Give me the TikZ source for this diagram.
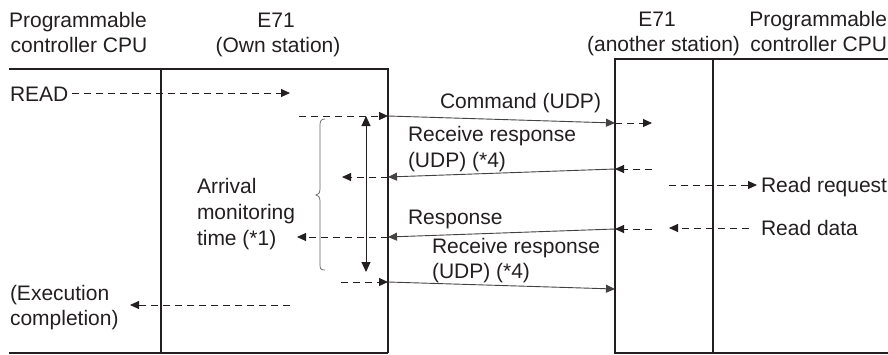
\documentclass[tikz,border=0pt]{standalone}
\usepackage{fontspec}
\setmainfont{Liberation Sans}
\usetikzlibrary{arrows.meta}
\definecolor{ink}{HTML}{231F20}
\begin{document}
\begin{tikzpicture}[x=1pt,y=-1pt,
  lbl/.style={inner sep=0pt,outer sep=0pt,text=ink,font=\fontsize{21}{25}\selectfont},
  frame/.style={draw=ink,line width=1.8pt},
  tip/.style={-{Triangle[length=9pt,width=8pt]}},
  dsh/.style={draw=ink,line width=0.9pt,dash pattern=on 7pt off 5pt,tip},
  msg/.style={draw=ink!85,line width=0.9pt,tip},
  ]
\useasboundingbox (0,0) rectangle (888,354);
% headers
\node[lbl,anchor=base] (h1a) at (78,27) {Programmable};
\node[lbl,anchor=base] (h1b) at (79,52) {controller CPU};
\node[lbl,anchor=base] (h2a) at (276,27) {E71};
\node[lbl,anchor=base] (h2b) at (278,52) {(Own station)};
\node[lbl,anchor=base] (h3a) at (657,26) {E71};
\node[lbl,anchor=base east] (h3b) at (740,51) {(another station)};
\node[lbl,anchor=base east] (h4a) at (887,26) {Programmable};
\node[lbl,anchor=base east] (h4b) at (887,51) {controller CPU};
% frames
\coordinate (lt0) at (9,69);
\coordinate (lt1) at (388,69);
\coordinate (lb0) at (9,353);
\coordinate (lb1) at (388,353);
\coordinate (v1t) at (161,69);
\coordinate (v1b) at (161,353);
\draw[frame] (lt0) -- (lt1) -- (lb1);
\draw[frame] (lb0) -- (lb1);
\draw[frame] (v1t) -- (v1b);
\coordinate (rt0) at (615,59);
\coordinate (rt1) at (888,59);
\coordinate (rb0) at (615,353);
\coordinate (rb1) at (888,353);
\coordinate (v2t) at (713,59);
\coordinate (v2b) at (713,353);
\draw[frame] (rt1) -- (rt0) -- (rb0) -- (rb1);
\draw[frame] (v2t) -- (v2b);
% texts
\node[lbl,anchor=base west] (read) at (10,101) {READ};
\node[lbl,anchor=base west] (cmd) at (440,108) {Command (UDP)};
\node[lbl,anchor=base west] (rr1a) at (408,141) {Receive response};
\node[lbl,anchor=base west] (rr1b) at (408,167) {(UDP) (*4)};
\node[lbl,anchor=base west] (arr1) at (197,193) {Arrival};
\node[lbl,anchor=base west] (arr2) at (197,219) {monitoring};
\node[lbl,anchor=base west] (arr3) at (197,245) {time (*1)};
\node[lbl,anchor=base west] (rreq) at (761,192) {Read request};
\node[lbl,anchor=base west] (rdat) at (761,235) {Read data};
\node[lbl,anchor=base west] (resp) at (408,224) {Response};
\node[lbl,anchor=base west] (rr2a) at (432,253) {Receive response};
\node[lbl,anchor=base west] (rr2b) at (432,278) {(UDP) (*4)};
\node[lbl,anchor=base west] (exe1) at (10,300) {(Execution};
\node[lbl,anchor=base west] (exe2) at (10,325) {completion)};
% coordinates for arrows
\coordinate (a0) at (72,93);
\coordinate (a1) at (290,93);
\coordinate (c0) at (299,116);
\coordinate (c1) at (388,116);
\coordinate (c2) at (615,123);
\coordinate (c3) at (652,123);
\coordinate (r0) at (652,169);
\coordinate (r1) at (615,169);
\coordinate (r2) at (388,177);
\coordinate (r3) at (342,177);
\coordinate (q0) at (669,185);
\coordinate (q1) at (757,185);
\coordinate (d0) at (749,228);
\coordinate (d1) at (669,228);
\coordinate (p0) at (652,229);
\coordinate (p1) at (615,229);
\coordinate (p2) at (388,237);
\coordinate (p3) at (297,237);
\coordinate (s0) at (341,282);
\coordinate (s1) at (388,282);
\coordinate (s2) at (615,289);
\coordinate (e0) at (290,305);
\coordinate (e1) at (130,305);
\coordinate (vt) at (366,116);
\coordinate (vb) at (366,272);
% arrows
\draw[dsh] (a0) -- (a1);
\draw[dsh] (c0) -- (c1);
\draw[msg] (c1) -- (c2);
\draw[dsh] (c2) -- (c3);
\draw[dsh] (r0) -- (r1);
\draw[msg] (r1) -- (r2);
\draw[dsh] (r2) -- (r3);
\draw[dsh] (q0) -- (q1);
\draw[dsh] (d0) -- (d1);
\draw[dsh] (p0) -- (p1);
\draw[msg] (p1) -- (p2);
\draw[dsh] (p2) -- (p3);
\draw[dsh] (s0) -- (s1);
\draw[msg] (s1) -- (s2);
\draw[dsh] (e0) -- (e1);
\draw[draw=ink,line width=1pt,{Triangle[length=10pt,width=9pt]}-{Triangle[length=10pt,width=9pt]}] (vt) -- (vb);
% brace
\draw[draw=ink!70,line width=0.7pt] (325,119) .. controls (321,119) and (320,121) .. (320,125) -- (320,189) .. controls (320,193) and (318,195) .. (316,195) .. controls (318,195) and (320,197) .. (320,201) -- (320,265) .. controls (320,269) and (321,270) .. (325,270);
\end{tikzpicture}
\end{document}
